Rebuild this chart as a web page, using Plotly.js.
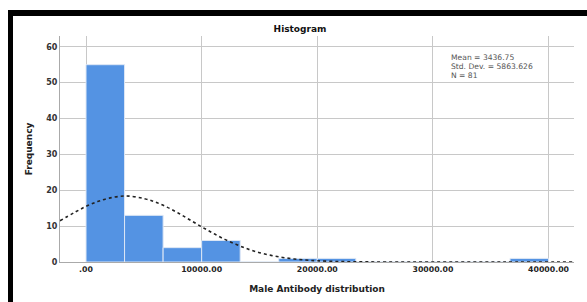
<!DOCTYPE html>
<html><head><meta charset="utf-8">
<script src="https://cdn.plot.ly/plotly-3.0.1.min.js"></script>
<style>
html,body{margin:0;padding:0;background:#fff;width:587px;height:302px;overflow:hidden;}
#chart{position:absolute;left:0;top:0;width:587px;height:302px;}
#frame{position:absolute;left:8px;top:10px;width:576px;height:300px;border-top:6px solid #000;border-left:5px solid #000;border-right:1px solid #000;pointer-events:none;}
</style></head>
<body>
<div id="chart"></div>
<div id="frame"></div>
<script>
// Histogram bins (bin width = 10000/3)
const binWidth = 10000/3;
const binStarts = [0, 3333.33, 6666.67, 10000, 13333.33, 16666.67, 20000, 23333.33, 26666.67, 30000, 33333.33, 36666.67];
const binCounts = [55, 13, 4, 6, 0, 1, 1, 0, 0, 0, 0, 1];
// Normal curve
const curveX = [-2250, -1000, 0, 1000, 2000, 3437, 5000, 6000, 7000, 8000, 9000, 10000, 11000, 12000, 13000, 14000, 15000, 16000, 17000, 18000, 19000, 20000, 22000, 24000, 26000, 30000, 36000, 42200];
const curveY = [11.5, 13.8, 15.5, 16.85, 17.8, 18.4, 17.7, 16.7, 15.3, 13.6, 11.7, 9.8, 8.0, 6.3, 4.9, 3.6, 2.6, 1.85, 1.27, 0.84, 0.54, 0.34, 0.12, 0.04, 0.01, 0, 0, 0];
const xTickVals = [0, 10000, 20000, 30000, 40000];
const xTickText = ['.00', '10000.00', '20000.00', '30000.00', '40000.00'];
const yTickVals = [0, 10, 20, 30, 40, 50, 60];
const statLines = ['Mean = 3436.75', 'Std. Dev. = 5863.626', 'N = 81'];

const font = 'DejaVu Sans, Verdana, sans-serif';
const bars = {
  type: 'bar',
  x: binStarts.map(s => s + binWidth/2),
  y: binCounts,
  width: binStarts.map(() => binWidth),
  marker: {color: '#5493e3', line: {color: '#dde7f5', width: 1}},
  hoverinfo: 'skip'
};
const curve = {
  type: 'scatter', mode: 'lines',
  x: curveX, y: curveY,
  line: {color: '#222', width: 1.6, dash: 'dot', shape: 'spline'},
  hoverinfo: 'skip'
};
const annotations = statLines.map((t, i) => ({
  xref: 'paper', yref: 'paper', x: (449-60)/514, y: 1 - (21.5 + i*8.8)/226,
  xanchor: 'left', yanchor: 'middle', showarrow: false,
  text: t, font: {family: font, size: 7.6, color: '#555'}
}));
const layout = {
  width: 587, height: 302,
  margin: {l: 60, r: 13, t: 36, b: 40, pad: 0},
  paper_bgcolor: 'rgba(0,0,0,0)', plot_bgcolor: '#fff',
  showlegend: false, bargap: 0,
  title: {text: '<b>Histogram</b>', x: 300/587, xanchor: 'center', y: 1 - 29/302, yanchor: 'middle',
          font: {family: font, size: 9, color: '#111'}},
  xaxis: {
    range: [-2250, 42200], tickvals: xTickVals, ticktext: xTickText.map(t => '<b>' + t + '</b>'),
    showgrid: true, gridcolor: '#c8c8c8', gridwidth: 1, zeroline: false,
    showline: true, linecolor: '#aaa', linewidth: 1,
    ticks: '', tickfont: {family: font, size: 7.8, color: '#222'},
    title: {text: '<b>Male Antibody distribution</b>', font: {family: font, size: 9, color: '#222'}, standoff: 12}
  },
  yaxis: {
    range: [0, 63], tickvals: yTickVals, ticktext: yTickVals.map(v => '<b>' + v + '</b>'),
    showgrid: true, gridcolor: '#c8c8c8', gridwidth: 1, zeroline: false,
    showline: true, linecolor: '#aaa', linewidth: 1,
    ticks: '', tickfont: {family: font, size: 8, color: '#333'},
    title: {text: '<b>Frequency</b>', font: {family: font, size: 9, color: '#222'}, standoff: 12}
  },
  annotations: annotations
};
Plotly.newPlot('chart', [bars, curve], layout, {displayModeBar: false, staticPlot: true});
</script>
</body></html>
